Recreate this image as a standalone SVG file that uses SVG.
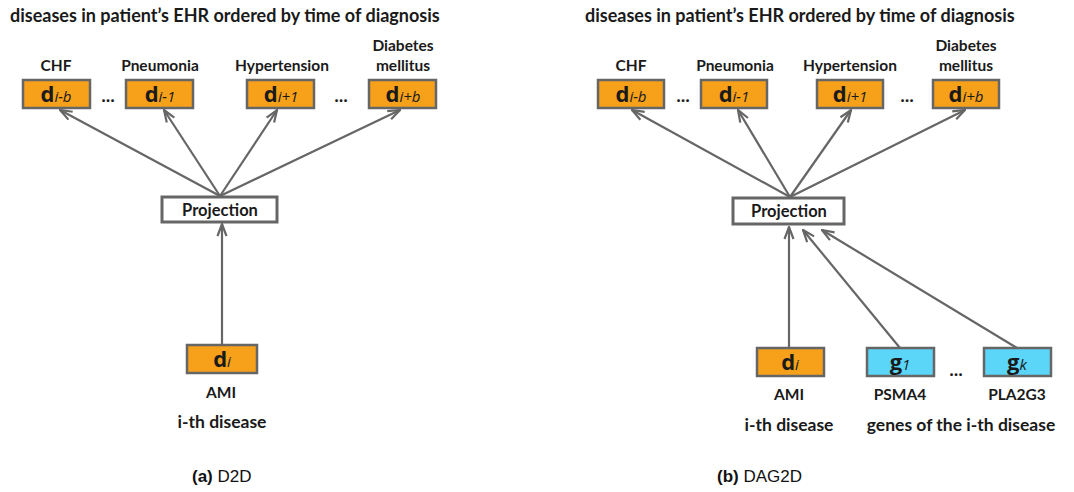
<svg xmlns="http://www.w3.org/2000/svg" width="1074" height="492" viewBox="0 0 1074 492">
<defs>
<marker id="ah" viewBox="0 0 14 12" refX="13" refY="6" markerWidth="14" markerHeight="12" markerUnits="userSpaceOnUse" orient="auto">
<path d="M1,1.5 L13,6 L1,10.5" fill="none" stroke="#666" stroke-width="2.2"/>
</marker>
<style>
.t{font-family:Lato,"Open Sans",sans-serif;font-weight:bold;fill:#1a1a1a;}
.title{font-size:18px;}
.lab{font-size:15.5px;text-anchor:middle;}
.sub{font-size:17.5px;text-anchor:middle;}
.bo{fill:#F7A11A;stroke:#666;stroke-width:2.5;}
.bc{fill:#5CD6F8;stroke:#666;stroke-width:2.5;}
.bp{fill:#fff;stroke:#666;stroke-width:3;}
.bt{font-family:"Open Sans",Lato,sans-serif;text-anchor:middle;fill:#1a1a1a;}
.big{font-size:22px;font-weight:bold;}
.sm{font-size:15px;font-style:italic;font-weight:normal;}
.dots{font-family:"Open Sans",sans-serif;font-size:16px;font-weight:bold;fill:#1a1a1a;text-anchor:middle;}
.cap{font-family:"Liberation Sans",Arial,sans-serif;font-size:17px;fill:#111;}
.ar{stroke:#666;stroke-width:2.2;fill:none;marker-end:url(#ah);}
</style>
</defs>

<g id="panel-a">
<text class="t title" x="10" y="22">diseases in patient’s EHR ordered by time of diagnosis</text>

<g id="a-dib">
<text class="t lab" x="56" y="71">CHF</text>
<rect class="bo" x="23" y="80" width="67" height="28"/>
<text class="bt" x="56" y="102"><tspan class="big">d</tspan><tspan class="sm">i-b</tspan></text>
</g>
<text class="dots" x="108" y="102">...</text>
<g id="a-di1">
<text class="t lab" x="160" y="71">Pneumonia</text>
<rect class="bo" x="126" y="80" width="67" height="28"/>
<text class="bt" x="160" y="102"><tspan class="big">d</tspan><tspan class="sm">i-1</tspan></text>
</g>
<g id="a-dip1">
<text class="t lab" x="282" y="71">Hypertension</text>
<rect class="bo" x="247" y="80" width="67" height="28"/>
<text class="bt" x="281" y="102"><tspan class="big">d</tspan><tspan class="sm">i+1</tspan></text>
</g>
<text class="dots" x="341" y="102">...</text>
<g id="a-dipb">
<text class="t lab" x="403" y="51">Diabetes</text>
<text class="t lab" x="403" y="71">mellitus</text>
<rect class="bo" x="369" y="80" width="67" height="28"/>
<text class="bt" x="403" y="102"><tspan class="big">d</tspan><tspan class="sm">i+b</tspan></text>
</g>

<g id="a-proj">
<rect class="bp" x="162" y="197" width="115" height="25"/>
<text class="t" x="220" y="215.5" font-size="16.5" text-anchor="middle">Projection</text>
</g>

<g id="a-di">
<rect class="bo" x="187" y="345" width="70" height="28"/>
<text class="bt" x="222" y="367"><tspan class="big">d</tspan><tspan class="sm">i</tspan></text>
<text class="t lab" x="221" y="398">AMI</text>
<text class="t sub" x="222" y="428">i-th disease</text>
</g>

<g id="a-conn">
<line class="ar" x1="220" y1="196" x2="60" y2="110"/>
<line class="ar" x1="220" y1="196" x2="164" y2="110"/>
<line class="ar" x1="220" y1="196" x2="277" y2="110"/>
<line class="ar" x1="220" y1="196" x2="400" y2="110"/>
<line class="ar" x1="222" y1="345" x2="222" y2="224"/>
</g>

<text class="cap" x="192" y="482"><tspan font-weight="bold">(a)</tspan> D2D</text>
</g>

<g id="panel-b">
<text class="t title" x="585" y="22">diseases in patient’s EHR ordered by time of diagnosis</text>

<g id="b-dib">
<text class="t lab" x="631" y="71">CHF</text>
<rect class="bo" x="598" y="80" width="66" height="28"/>
<text class="bt" x="631" y="102"><tspan class="big">d</tspan><tspan class="sm">i-b</tspan></text>
</g>
<text class="dots" x="683" y="102">...</text>
<g id="b-di1">
<text class="t lab" x="735" y="71">Pneumonia</text>
<rect class="bo" x="701" y="80" width="66" height="28"/>
<text class="bt" x="734" y="102"><tspan class="big">d</tspan><tspan class="sm">i-1</tspan></text>
</g>
<g id="b-dip1">
<text class="t lab" x="850" y="71">Hypertension</text>
<rect class="bo" x="817" y="80" width="66" height="28"/>
<text class="bt" x="850" y="102"><tspan class="big">d</tspan><tspan class="sm">i+1</tspan></text>
</g>
<text class="dots" x="907" y="102">...</text>
<g id="b-dipb">
<text class="t lab" x="966" y="51">Diabetes</text>
<text class="t lab" x="966" y="71">mellitus</text>
<rect class="bo" x="933" y="80" width="66" height="28"/>
<text class="bt" x="966" y="102"><tspan class="big">d</tspan><tspan class="sm">i+b</tspan></text>
</g>

<g id="b-proj">
<rect class="bp" x="733" y="198" width="111" height="26"/>
<text class="t" x="789" y="217" font-size="16.5" text-anchor="middle">Projection</text>
</g>

<g id="b-di">
<rect class="bo" x="757" y="348" width="67" height="28"/>
<text class="bt" x="790" y="370"><tspan class="big">d</tspan><tspan class="sm">i</tspan></text>
<text class="t lab" x="789" y="400">AMI</text>
<text class="t sub" x="789" y="431">i-th disease</text>
</g>
<g id="b-g1">
<rect class="bc" x="867" y="348" width="67" height="28"/>
<text class="bt" x="900" y="370"><tspan class="big">g</tspan><tspan class="sm">1</tspan></text>
<text class="t lab" x="900" y="400">PSMA4</text>
</g>
<text class="dots" x="956" y="376">...</text>
<g id="b-gk">
<rect class="bc" x="984" y="348" width="67" height="28"/>
<text class="bt" x="1017" y="370"><tspan class="big">g</tspan><tspan class="sm">k</tspan></text>
<text class="t lab" x="1017" y="400">PLA2G3</text>
</g>
<text class="t sub" x="961" y="431">genes of the i-th disease</text>

<g id="b-conn">
<line class="ar" x1="790" y1="197" x2="632" y2="110"/>
<line class="ar" x1="790" y1="197" x2="738" y2="110"/>
<line class="ar" x1="790" y1="197" x2="851" y2="110"/>
<line class="ar" x1="790" y1="197" x2="965" y2="110"/>
<line class="ar" x1="789" y1="348" x2="789" y2="227"/>
<line class="ar" x1="900" y1="348" x2="803" y2="230"/>
<line class="ar" x1="1017" y1="348" x2="822" y2="230"/>
</g>

<text class="cap" x="717" y="482"><tspan font-weight="bold">(b)</tspan> DAG2D</text>
</g>
</svg>
